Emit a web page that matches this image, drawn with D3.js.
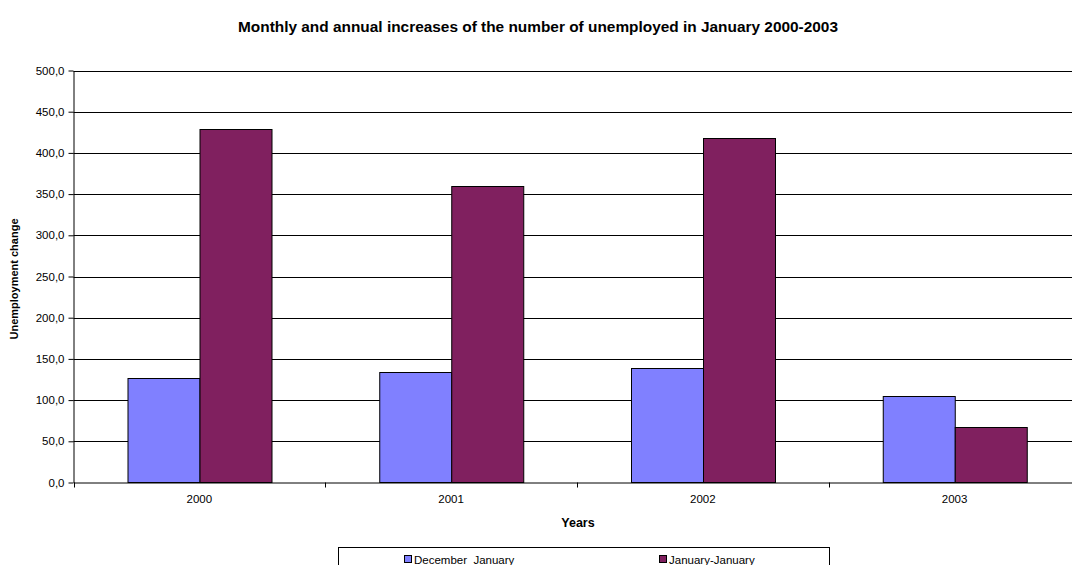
<!DOCTYPE html>
<html><head><meta charset="utf-8">
<script src="https://cdn.jsdelivr.net/npm/d3@7"></script>
<style>body{margin:0;background:#fff;overflow:hidden}svg{display:block;font-family:Arial,"Liberation Sans",sans-serif}</style>
</head><body>
<svg id="c" width="1072" height="565"></svg>
<script>
const years = ["2000","2001","2002","2003"];
const seriesNames = ["December  January","January-January"];
const decJan = [126.6, 133.6, 138.5, 104.6];
const janJan = [429.3, 360.2, 418.3, 67.8];
const yTicks = [0,50,100,150,200,250,300,350,400,450,500];
const colors = ["#8080ff","#80205f"];

const svg = d3.select("#c");
const L = 73.5, R = 1080.5, T = 70.5, B = 482.5;
const x = d3.scaleBand().domain(years).range([L, R]).paddingInner(0).paddingOuter(0);
const x1 = d3.scaleBand().domain([0,1]).range([0, x.bandwidth()]).paddingInner(0).paddingOuter(0.748);
const y = d3.scaleLinear().domain([0,500]).range([B, T]);
const fmt = d => d3.format(".1f")(d).replace(".", ",");

// gridlines
svg.append("g").selectAll("line").data(yTicks.filter(d=>d>0)).join("line")
  .attr("x1", L).attr("x2", R).attr("y1", d=>Math.round(y(d))+0.5).attr("y2", d=>Math.round(y(d))+0.5)
  .attr("stroke", "#000").attr("stroke-width", 1);

// bars
const data = years.map((yr,i)=>({yr, vals:[decJan[i], janJan[i]]}));
const g = svg.append("g").selectAll("g").data(data).join("g")
  .attr("transform", d=>`translate(${x(d.yr)},0)`);
g.selectAll("rect").data(d=>d.vals.map((v,k)=>({v,k}))).join("rect")
  .attr("x", d=>Math.round(x1(d.k))+0.5).attr("width", Math.round(x1.bandwidth()))
  .attr("y", d=>Math.round(y(d.v))+0.5).attr("height", d=>B - Math.round(y(d.v)) - 0.5)
  .attr("fill", d=>colors[d.k]).attr("stroke", "#000").attr("stroke-width", 1);

// y axis
const ya = svg.append("g").attr("transform", `translate(${L},0)`)
  .call(d3.axisLeft(y).tickValues(yTicks).tickFormat(fmt).tickSize(5).tickSizeOuter(0));
ya.select(".domain").attr("stroke","#000");
ya.selectAll("text").attr("font-size", 11.5).attr("fill","#000").attr("font-family","Arial,'Liberation Sans',sans-serif").attr("dx", -1);

// x axis
const xa = svg.append("g").attr("transform", `translate(0,${B})`)
  .call(d3.axisBottom(x).tickSize(0).tickSizeOuter(0));
xa.select(".domain").attr("stroke","#000");
xa.selectAll("text").attr("font-size", 11.5).attr("fill","#000").attr("y", 12).attr("dy", "0.71em").attr("font-family","Arial,'Liberation Sans',sans-serif");
// category boundary ticks
svg.append("g").selectAll("line").data(years).join("line")
  .attr("x1", d=>Math.round(x(d))+0.5).attr("x2", d=>Math.round(x(d))+0.5)
  .attr("y1", B).attr("y2", B+5).attr("stroke","#000");

// titles
svg.append("text").attr("x", 538).attr("y", 32).attr("text-anchor","middle")
  .attr("font-size", 15).attr("font-weight","bold")
  .attr("textLength", 600).attr("lengthAdjust","spacingAndGlyphs")
  .text("Monthly and annual increases of the number of unemployed in January 2000-2003");
svg.append("text").attr("x", 578).attr("y", 527).attr("text-anchor","middle")
  .attr("font-size", 12.5).attr("font-weight","bold").text("Years");
svg.append("text").attr("transform","translate(18,279) rotate(-90)").attr("text-anchor","middle")
  .attr("font-size", 11).attr("font-weight","bold").text("Unemployment change");

// legend
svg.append("rect").attr("x", 338.5).attr("y", 547.5).attr("width", 491).attr("height", 30)
  .attr("fill","#fff").attr("stroke","#000");
const legX = [404, 659];
const lg = svg.append("g").selectAll("g").data(seriesNames).join("g")
  .attr("transform", (d,i)=>`translate(${legX[i]},0)`);
lg.append("rect").attr("x",0.5).attr("y",555.5).attr("width",7).attr("height",7)
  .attr("fill",(d,i)=>colors[i]).attr("stroke","#000");
lg.append("text").attr("x",10).attr("y",564).attr("font-size",11.5)
  .style("white-space","pre").attr("xml:space","preserve").text(d=>d);
</script>
</body></html>
